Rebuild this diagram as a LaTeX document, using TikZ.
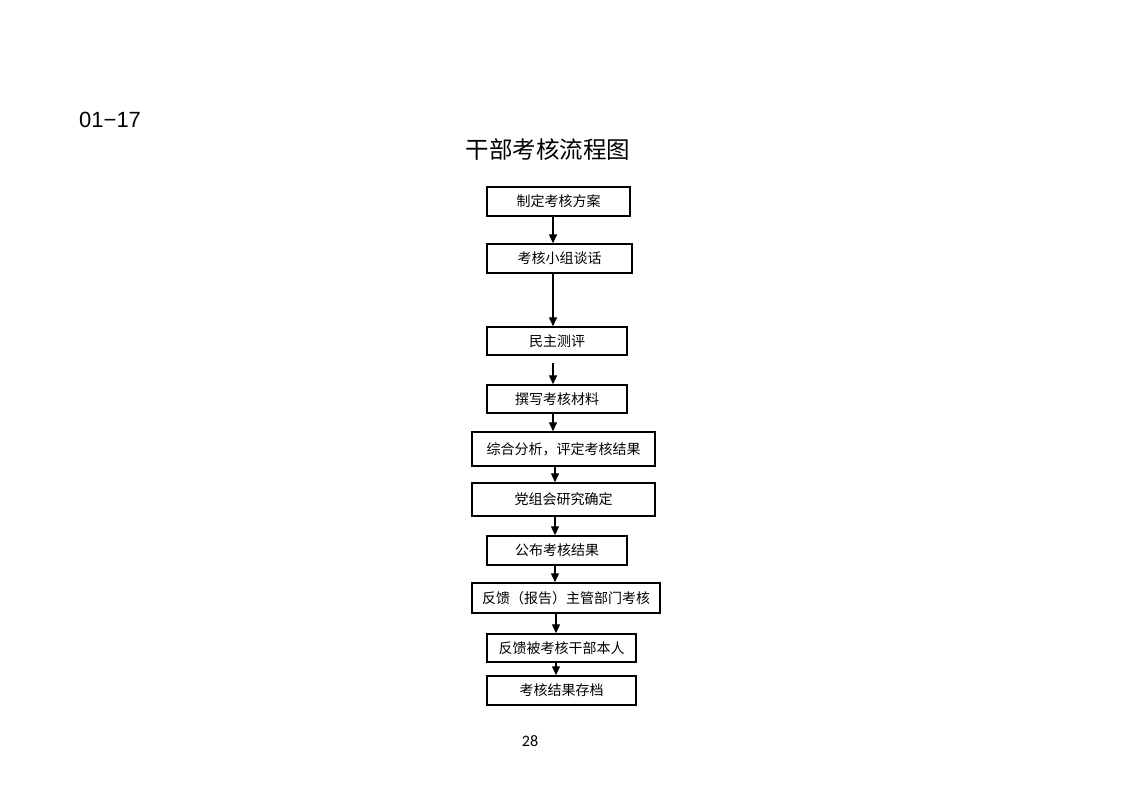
\documentclass[tikz,border=0pt]{standalone}
\usepackage{fontspec}
\newfontfamily\cjk{Noto Sans CJK SC}
\newfontfamily\numfont{Liberation Sans}
\newfontfamily\pagefont{Carlito}
\usetikzlibrary{arrows.meta,positioning,calc}

\begin{document}
\begin{tikzpicture}[x=1pt, y=-1pt,
    box/.style={draw, line width=1.5pt, inner sep=0pt, minimum height=29pt, font=\cjk\fontsize{14}{16}\selectfont},
    arr/.style={line width=1.4pt, -{Triangle[length=9pt,width=8pt]}}]
            \useasboundingbox (0,0) rectangle (1122,793);
            \node[anchor=base west, inner sep=0pt, font=\numfont\fontsize{22}{24}\selectfont] (Code) at (79,127) {01−17};
            \node[font=\cjk\fontsize{23.5}{26}\selectfont] (Title) at (548,150) {干部考核流程图};
            \node[box, minimum width=143pt] (Plan) at (558.5,201.5) {制定考核方案};
            \node[box, minimum width=145pt] (Talk) at (559.5,258.5) {考核小组谈话};
            \node[box, minimum width=140pt, minimum height=28pt] (Vote) at (557,341) {民主测评};
            \node[box, minimum width=140pt, minimum height=28pt] (Write) at (557,399) {撰写考核材料};
            \node[box, minimum width=183pt, minimum height=34pt] (Sum) at (563.5,449) {综合分析，评定考核结果};
            \node[box, minimum width=183pt, minimum height=33pt] (Party) at (563.5,499.5) {党组会研究确定};
            \node[box, minimum width=140pt] (Pub) at (557,550.5) {公布考核结果};
            \node[box, minimum width=188pt, minimum height=30pt] (Report) at (566,598) {反馈（报告）主管部门考核};
            \node[box, minimum width=149pt, minimum height=28pt] (Back) at (561.5,648) {反馈被考核干部本人};
            \node[box, minimum width=149pt] (Store) at (561.5,690.5) {考核结果存档};
            \node[anchor=base, font=\pagefont\fontsize{16}{18}\selectfont] (Page) at (530,746) {28};
            % arrow columns
            \coordinate (ColA) at (553,0);
            \coordinate (ColB) at (555,0);
            \coordinate (ColC) at (556,0);
            \coordinate (VoteOut) at (553,363);
            \draw[arr] (Plan.south -| ColA) -- (Talk.north -| ColA);
            \draw[arr] (Talk.south -| ColA) -- (Vote.north -| ColA);
            \draw[arr] (VoteOut) -- (Write.north -| ColA);
            \draw[arr] (Write.south -| ColA) -- (Sum.north -| ColA);
            \draw[arr] (Sum.south -| ColB) -- (Party.north -| ColB);
            \draw[arr] (Party.south -| ColB) -- (Pub.north -| ColB);
            \draw[arr] (Pub.south -| ColB) -- (Report.north -| ColB);
            \draw[arr] (Report.south -| ColC) -- (Back.north -| ColC);
            \draw[arr] (Back.south -| ColC) -- (Store.north -| ColC);
        \end{tikzpicture}
\end{document}
